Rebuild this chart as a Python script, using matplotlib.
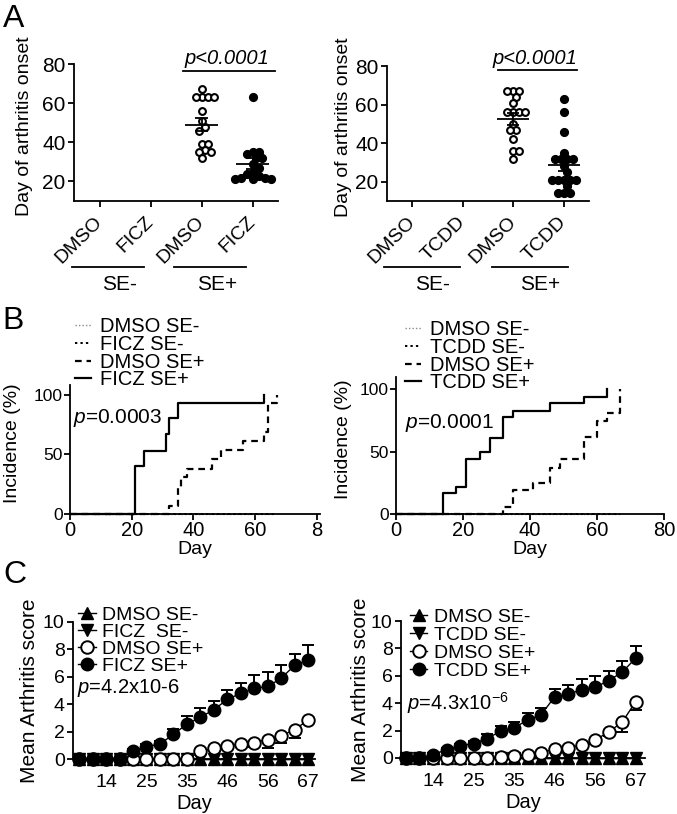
import matplotlib.pyplot as plt
import numpy as np
from matplotlib.lines import Line2D

plt.rcParams['font.family'] = ['Liberation Sans', 'DejaVu Sans']
plt.rcParams['mathtext.fontset'] = 'custom'
plt.rcParams['mathtext.rm'] = 'Liberation Sans'
plt.rcParams['mathtext.it'] = 'Liberation Sans:italic'
plt.rcParams['axes.linewidth'] = 1.3
plt.rcParams['xtick.major.width'] = 1.3
plt.rcParams['ytick.major.width'] = 1.3

# ---- A: day of arthritis onset ----
ficz_groups = ['DMSO', 'FICZ', 'DMSO', 'FICZ']
onset_dmso_1 = [67, 63, 63, 63, 63, 56, 51, 48, 46, 39, 39, 36, 35, 35, 32]
onset_ficz = [63, 35, 35, 34, 32, 32, 29, 27, 25, 24, 23, 22, 22, 21, 21, 21]
tcdd_groups = ['DMSO', 'TCDD', 'DMSO', 'TCDD']
onset_dmso_2 = [67, 67, 67, 64, 61, 56, 56, 56, 56, 50, 47, 47, 42, 36, 36, 32]
onset_tcdd = [63, 56, 46, 35, 32, 32, 32, 32, 28, 25, 21, 21, 21, 21, 21, 18, 14, 14, 14]

# ---- B: incidence (%) step curves ----
ficz_pos_days = [0, 21, 24, 31, 32, 35, 63]
ficz_pos_inc = [0, 40, 53, 67, 80, 93, 100]
dmso_pos1_days = [0, 32, 35, 36, 38, 46, 49, 56, 63, 64, 67]
dmso_pos1_inc = [0, 7, 23, 31, 38, 46, 54, 61, 69, 93, 100]
neg1_days = [0, 66]
neg1_inc = [0, 0]
tcdd_pos_days = [0, 14, 18, 21, 25, 28, 32, 35, 46, 56, 63]
tcdd_pos_inc = [0, 17, 22, 44, 50, 61, 78, 83, 89, 94, 100]
dmso_pos2_days = [0, 32, 35, 41, 46, 49, 56, 60, 63, 67]
dmso_pos2_inc = [0, 6, 19, 25, 37, 44, 62, 75, 81, 100]
neg2_days = [0, 67]
neg2_inc = [0, 0]

# ---- C: mean arthritis score ----
score_days = [7, 10, 14, 18, 21, 25, 28, 32, 35, 39, 42, 46, 49, 53, 56, 60, 63, 67]
day_ticks = [14, 25, 35, 46, 56, 67]
zero_score = [0] * 18
ficz_score = [0, 0, 0, 0, 0.6, 0.9, 1.1, 1.8, 2.55, 3.05, 3.6, 4.35, 4.8, 5.15, 5.3, 5.9, 6.85, 7.2]
ficz_sem = [0, 0, 0, 0, 0.15, 0.2, 0.25, 0.37, 0.6, 0.66, 0.6, 0.68, 0.72, 1.0, 1.05, 0.96, 0.85, 1.1]
dmso_score_1 = [0, 0, 0, 0, 0, 0, 0, 0, 0, 0.55, 0.78, 0.95, 1.1, 1.2, 1.42, 1.7, 2.15, 2.85]
dmso_sem_1 = [0, 0, 0, 0, 0, 0, 0, 0, 0, 0.1, 0.15, 0.2, 0.25, 0.35, 0.62, 0.5, 0.65, 0.3]
tcdd_score = [0, 0, 0.25, 0.6, 0.9, 1.05, 1.42, 1.95, 2.2, 2.77, 3.15, 4.45, 4.65, 4.98, 5.15, 5.65, 6.25, 7.28]
tcdd_sem = [0, 0, 0.1, 0.15, 0.15, 0.2, 0.3, 0.4, 0.45, 0.53, 0.5, 0.56, 0.68, 0.78, 0.87, 0.7, 0.85, 0.86]
dmso_score_2 = [0, 0, 0, 0, 0, 0, 0, 0.1, 0.15, 0.25, 0.4, 0.65, 0.75, 0.95, 1.3, 1.9, 2.6, 4.1]
dmso_sem_2 = [0, 0, 0, 0, 0, 0, 0, 0, 0, 0.05, 0.1, 0.15, 0.15, 0.2, 0.25, 0.3, 0.7, 0.6]

W, H = 677, 814
fig = plt.figure(figsize=(W / 100, H / 100), dpi=100)


def add_ax(l, t, r, b):
    ax = fig.add_axes([l / W, 1 - b / H, (r - l) / W, (b - t) / H])
    ax.spines['top'].set_visible(False)
    ax.spines['right'].set_visible(False)
    ax.tick_params(direction='out', length=4)
    return ax


def swarm_offsets(vals, ypx, xpx, d=6.0):
    # simple deterministic beeswarm in pixel space
    pts, offs = [], []
    for v in vals:
        y = v * ypx
        k = 0
        while True:
            c = (k + 1) // 2 * 0.5 * d * (1 if k % 2 else -1)
            if all((c - px) ** 2 + (y - py) ** 2 >= d * d for px, py in pts):
                break
            k += 1
        pts.append((c, y))
        offs.append(c / xpx)
    return np.array(offs)


def onset_panel(box, groups, dmso, treat, se_lines, se_text, pline, ylab_x):
    l, t, r, b = box
    ax = add_ax(l, t, r, b)
    ax.set_xlim(-0.5, 3.5)
    ax.set_ylim(10, 80)
    ypx = (b - t) / 70
    xpx = (r - l) / 4
    for pos, vals, filled in [(2, dmso, False), (3, treat, True)]:
        vals = np.array(vals, float)
        off = swarm_offsets(vals, ypx, xpx)
        ax.scatter(pos + off, vals, s=26 if filled else 24,
                   facecolor='black' if filled else 'white',
                   edgecolor='black', linewidth=1.5, zorder=3, clip_on=False)
        m = vals.mean()
        se = vals.std(ddof=1) / np.sqrt(len(vals))
        ax.hlines(m, pos - 0.32, pos + 0.32, color='black', lw=1.3, zorder=4)
        ax.vlines(pos, m - se, m + se, color='black', lw=1.3, zorder=4)
        ax.hlines([m - se, m + se], pos - 0.12, pos + 0.12, color='black', lw=1.3, zorder=4)
    ax.set_yticks([20, 40, 60, 80])
    ax.tick_params(axis='y', labelsize=15, pad=2)
    ax.set_xticks(range(4))
    ax.set_xticklabels(groups, rotation=45, ha='right', va='center',
                       rotation_mode='anchor', fontsize=14)
    ax.tick_params(axis='x', pad=9)
    ax.set_ylabel('Day of arthritis onset', fontsize=14, va='center')
    ax.yaxis.set_label_coords(ylab_x / W, 1 - ((t + b) / 2 - 6.5) / H, transform=fig.transFigure)
    tr = ax.get_xaxis_transform()
    ly = se_lines[2]
    for (x0, x1), (tx, txt) in zip(se_lines[:2], se_text):
        ax.plot([x0, x1], [ly, ly], color='black', lw=1.3, transform=tr, clip_on=False)
        ax.text(tx, ly - 0.13, txt, transform=tr, ha='center', va='center', fontsize=15)
    px0, px1, py = pline
    ax.plot([px0, px1], [py, py], color='black', lw=1.3, clip_on=False)
    ax.text((px0 + px1) / 2 - 0.05, py + 1.2, 'p<0.0001', fontstyle='italic',
            ha='center', va='bottom', fontsize=14.5)
    return ax


onset_panel((74, 64, 278, 201), ficz_groups, onset_dmso_1, onset_ficz,
            [(-0.53, 0.88), (1.47, 2.88), -0.48], [(0.39, 'SE-'), (2.31, 'SE+')],
            (1.63, 3.45, 76.6), 25)
onset_panel((387, 66, 589, 201), tcdd_groups, onset_dmso_2, onset_tcdd,
            [(-0.56, 0.94), (1.58, 3.08), -0.49], [(0.40, 'SE-'), (2.54, 'SE+')],
            (1.70, 3.26, 78.0), 343)


def incidence_panel(box, curves, names, xticklabels, ylim, ptext, ppos, leg_pos, ylab_x):
    l, t, r, b = box
    ax = add_ax(l, t, r, b)
    styles = [dict(color='#8a8a8a', lw=1.0, ls=(0, (1, 1.5))),
              dict(color='black', lw=1.4, ls=(0, (1.2, 1.6))),
              dict(color='black', lw=1.6, ls=(0, (3, 2.2))),
              dict(color='black', lw=1.6, ls='-')]
    for (d, v), st in zip(curves, styles):
        ax.step(d, v, where='post', clip_on=False, **st)
    ax.set_xlim(0, 81 if xticklabels[-1] == '8' else 80)
    ax.set_ylim(0, ylim)
    ax.set_xticks([0, 20, 40, 60, 80])
    ax.set_xticklabels(xticklabels)
    ax.set_yticks([0, 50, 100])
    ax.tick_params(axis='x', labelsize=14.5, pad=1)
    ax.tick_params(axis='y', labelsize=12.5, pad=1)
    ax.set_xlabel('Day', fontsize=14, labelpad=1)
    ax.set_ylabel('Incidence (%)', fontsize=14, va='center')
    ax.yaxis.set_label_coords(ylab_x / W, 1 - ((t + b) / 2 - 6) / H, transform=fig.transFigure)
    handles = [Line2D([], [], **st) for st in styles]
    ax.legend(handles, names, loc='upper left', frameon=False, fontsize=14.5,
              bbox_to_anchor=(leg_pos[0] / W, 1 - leg_pos[1] / H),
              bbox_transform=fig.transFigure, borderpad=0, borderaxespad=0,
              handlelength=0.8, handletextpad=0.45, labelspacing=-0.06)
    ax.text(ppos[0] / W, 1 - ppos[1] / H, ptext, transform=fig.transFigure,
            ha='left', va='center', fontsize=15)
    return ax


incidence_panel((70, 385, 320, 514),
                [(neg1_days, neg1_inc), (neg1_days, neg1_inc),
                 (dmso_pos1_days, dmso_pos1_inc), (ficz_pos_days, ficz_pos_inc)],
                ['DMSO SE-', 'FICZ SE-', 'DMSO SE+', 'FICZ SE+'],
                ['0', '20', '40', '60', '8'], 108, '$p$=0.0003', (73, 418), (75, 317), 13)
incidence_panel((396, 377, 664, 514),
                [(neg2_days, neg2_inc), (neg2_days, neg2_inc),
                 (dmso_pos2_days, dmso_pos2_inc), (tcdd_pos_days, tcdd_pos_inc)],
                ['DMSO SE-', 'TCDD SE-', 'DMSO SE+', 'TCDD SE+'],
                ['0', '20', '40', '60', '80'], 110, '$p$=0.0001', (405, 423), (405, 320), 343)


def score_panel(box, names, treat, treat_sem, dmso, dmso_sem, ptext, ppos, leg_pos, ylab_x, xlim,
                spacing):
    l, t, r, b = box
    ax = add_ax(l, t, r, b)
    idx = np.arange(len(score_days))
    zeros = np.zeros(len(idx))
    ax.plot(idx, zero_score, marker='^', ms=8, color='black', lw=1.0, zorder=3, clip_on=False)
    ax.plot(idx, zero_score, marker='v', ms=8, color='black', lw=1.0, zorder=3, clip_on=False)
    e1 = ax.errorbar(idx, dmso, yerr=[dmso_sem, zeros], fmt='-o', ms=9, mfc='white',
                     mec='black', mew=1.4, color='black', lw=1.0, capsize=4, elinewidth=1.4,
                     capthick=1.4, zorder=4)
    e2 = ax.errorbar(idx, treat, yerr=[zeros, treat_sem], fmt='-o', ms=9, mfc='black',
                     mec='black', color='black', lw=1.0, capsize=4, elinewidth=1.4,
                     capthick=1.4, zorder=5)
    for cont in (e1, e2):
        for art in cont.get_children():
            art.set_clip_on(False)
    ax.set_xlim(*xlim)
    ax.set_ylim(0, 10)
    ax.set_yticks(range(0, 11, 2))
    ax.set_xticks([score_days.index(dd) for dd in day_ticks])
    ax.set_xticklabels([str(dd) for dd in day_ticks])
    ax.tick_params(axis='both', labelsize=14, pad=2)
    ax.tick_params(axis='x', pad=7)
    ax.set_xlabel('Day', fontsize=14.5, labelpad=2)
    ax.set_ylabel('Mean Arthritis score', fontsize=15, va='center')
    ax.yaxis.set_label_coords(ylab_x / W, 1 - ((t + b) / 2) / H, transform=fig.transFigure)
    handles = [Line2D([], [], marker='^', ms=8, color='black', lw=1.0),
               Line2D([], [], marker='v', ms=8, color='black', lw=1.0),
               Line2D([], [], marker='o', ms=9, mfc='white', mec='black', mew=1.4,
                      color='black', lw=1.0),
               Line2D([], [], marker='o', ms=9, color='black', lw=1.0)]
    ax.legend(handles, names, loc='upper left', frameon=False, fontsize=14,
              bbox_to_anchor=(leg_pos[0] / W, 1 - leg_pos[1] / H),
              bbox_transform=fig.transFigure, borderpad=0, borderaxespad=0,
              handlelength=0.9, handletextpad=0.35, labelspacing=spacing)
    ax.text(ppos[0] / W, 1 - ppos[1] / H, ptext, transform=fig.transFigure,
            ha='left', va='center', fontsize=14.5)
    return ax


score_panel((73, 622, 315, 759), ['DMSO SE-', 'FICZ  SE-', 'DMSO SE+', 'FICZ SE+'],
            ficz_score, ficz_sem, dmso_score_1, dmso_sem_1, '$p$=4.2x10-6', (77, 688),
            (78, 606), 30, (-0.45, 17.5), -0.02)
score_panel((401, 621, 645, 758), ['DMSO SE-', 'TCDD SE-', 'DMSO SE+', 'TCDD SE+'],
            tcdd_score, tcdd_sem, dmso_score_2, dmso_sem_2, '$p$=4.3x10$^{-6}$', (407, 703),
            (410, 608), 360, (-0.37, 17.7), 0.03)

for letter, (x, y) in zip('ABC', [(3, 4), (2, 306), (3, 560)]):
    fig.text(x / W, 1 - y / H, letter, fontsize=23, ha='left', va='top')

fig.savefig('out.png', dpi=100)
